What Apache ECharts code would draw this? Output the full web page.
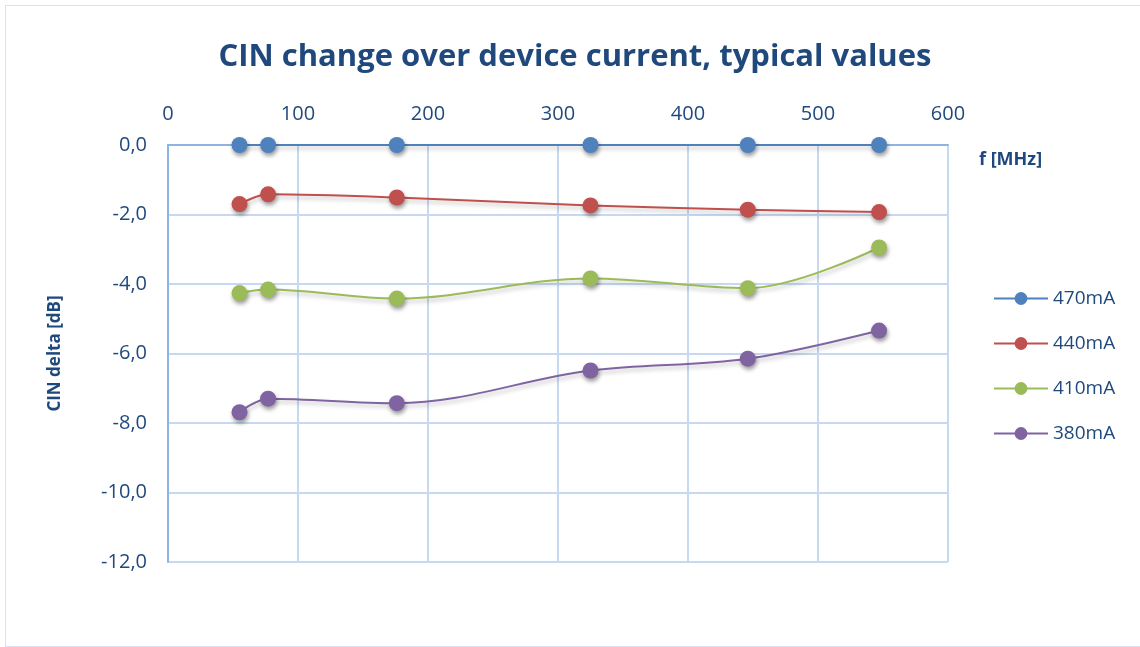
<!DOCTYPE html>
<html>
<head>
<meta charset="utf-8">
<script src="https://cdn.jsdelivr.net/npm/echarts@6/dist/echarts.min.js"></script>
<style>
  html, body { margin: 0; padding: 0; background: #fff; }
  #chart { position: absolute; left: 5px; top: 5px; width: 1140px; height: 642px;
           border: 1px solid #d9e3f0; box-sizing: border-box; }
</style>
</head>
<body>
<div id="chart"></div>
<script>
'use strict';

// frequency points, MHz
var freqs = [55, 77, 176, 325, 446, 547];

var seriesNames = ['470mA', '440mA', '410mA', '380mA'];
var seriesColors = ['#4F81BD', '#C0504D', '#9BBB59', '#8064A2'];

var cin470 = [0, 0, 0, 0, 0, 0];
var cin440 = [-1.70, -1.42, -1.51, -1.74, -1.86, -1.93];
var cin410 = [-4.26, -4.16, -4.42, -3.84, -4.12, -2.95];
var cin380 = [-7.69, -7.30, -7.43, -6.49, -6.15, -5.34];

var seriesValues = [cin470, cin440, cin410, cin380];

var textColor = '#1F497D';
var fontFam = '"Open Sans", "Noto Sans", sans-serif';

var chartDom = document.getElementById('chart');
var myChart = echarts.init(chartDom);

function pairs(vals) {
  return freqs.map(function (f, i) {
    return [f, vals[i]];
  });
}

var option = {
  textStyle: {fontFamily: fontFam},
  title: {
    text: 'CIN change over device current, typical values',
    left: 'center',
    top: 31,
    textStyle: {
      color: textColor,
      fontSize: 31,
      fontWeight: 'bold',
      fontFamily: fontFam
    }
  },
  legend: {
    orient: 'vertical',
    left: 982,
    top: 278,
    itemWidth: 54,
    itemHeight: 16,
    itemGap: 26,
    data: seriesNames,
    textStyle: {color: textColor, fontSize: 19, fontFamily: fontFam}
  },
  grid: {
    left: 162,
    top: 139,
    width: 780,
    height: 417
  },
  xAxis: {
    type: 'value',
    position: 'top',
    min: 0,
    max: 600,
    interval: 100,
    axisLine: {show: true, lineStyle: {color: '#8EB4E3', width: 2}},
    axisTick: {show: false},
    axisLabel: {color: textColor, fontSize: 20, margin: 21, fontFamily: fontFam},
    splitLine: {show: true, lineStyle: {color: '#C6D9F1', width: 2}}
  },
  yAxis: {
    type: 'value',
    min: -12,
    max: 0,
    interval: 2,
    name: 'CIN delta [dB]',
    nameLocation: 'middle',
    nameRotate: 90,
    nameGap: 104,
    nameTextStyle: {color: textColor, fontSize: 17, fontWeight: 'bold', fontFamily: fontFam},
    axisLine: {show: true, lineStyle: {color: '#8EB4E3', width: 2}},
    axisTick: {show: false},
    axisLabel: {
      color: textColor,
      fontSize: 20,
      margin: 21,
      fontFamily: fontFam,
      formatter: function (v) {
        return v.toFixed(1).replace('.', ',');
      }
    },
    splitLine: {show: true, lineStyle: {color: '#C6D9F1', width: 2}}
  },
  graphic: [
    {
      type: 'text',
      left: 973,
      top: 145,
      style: {
        text: 'f [MHz]',
        fill: textColor,
        fontSize: 18,
        fontWeight: 'bold',
        fontFamily: fontFam
      }
    }
  ],
  series: seriesNames.map(function (name, i) {
    return {
      name: name,
      type: 'line',
      data: pairs(seriesValues[i]),
      smooth: 0.35,
      symbol: 'circle',
      symbolSize: 16,
      color: seriesColors[i],
      lineStyle: {
        width: 2,
        shadowColor: 'rgba(0,0,0,0.25)',
        shadowBlur: 4,
        shadowOffsetX: 1,
        shadowOffsetY: 3
      },
      itemStyle: {
        shadowColor: 'rgba(0,0,0,0.4)',
        shadowBlur: 4,
        shadowOffsetX: 1,
        shadowOffsetY: 3
      },
      emphasis: {disabled: true},
      animation: false
    };
  })
};

myChart.setOption(option);
</script>
</body>
</html>
